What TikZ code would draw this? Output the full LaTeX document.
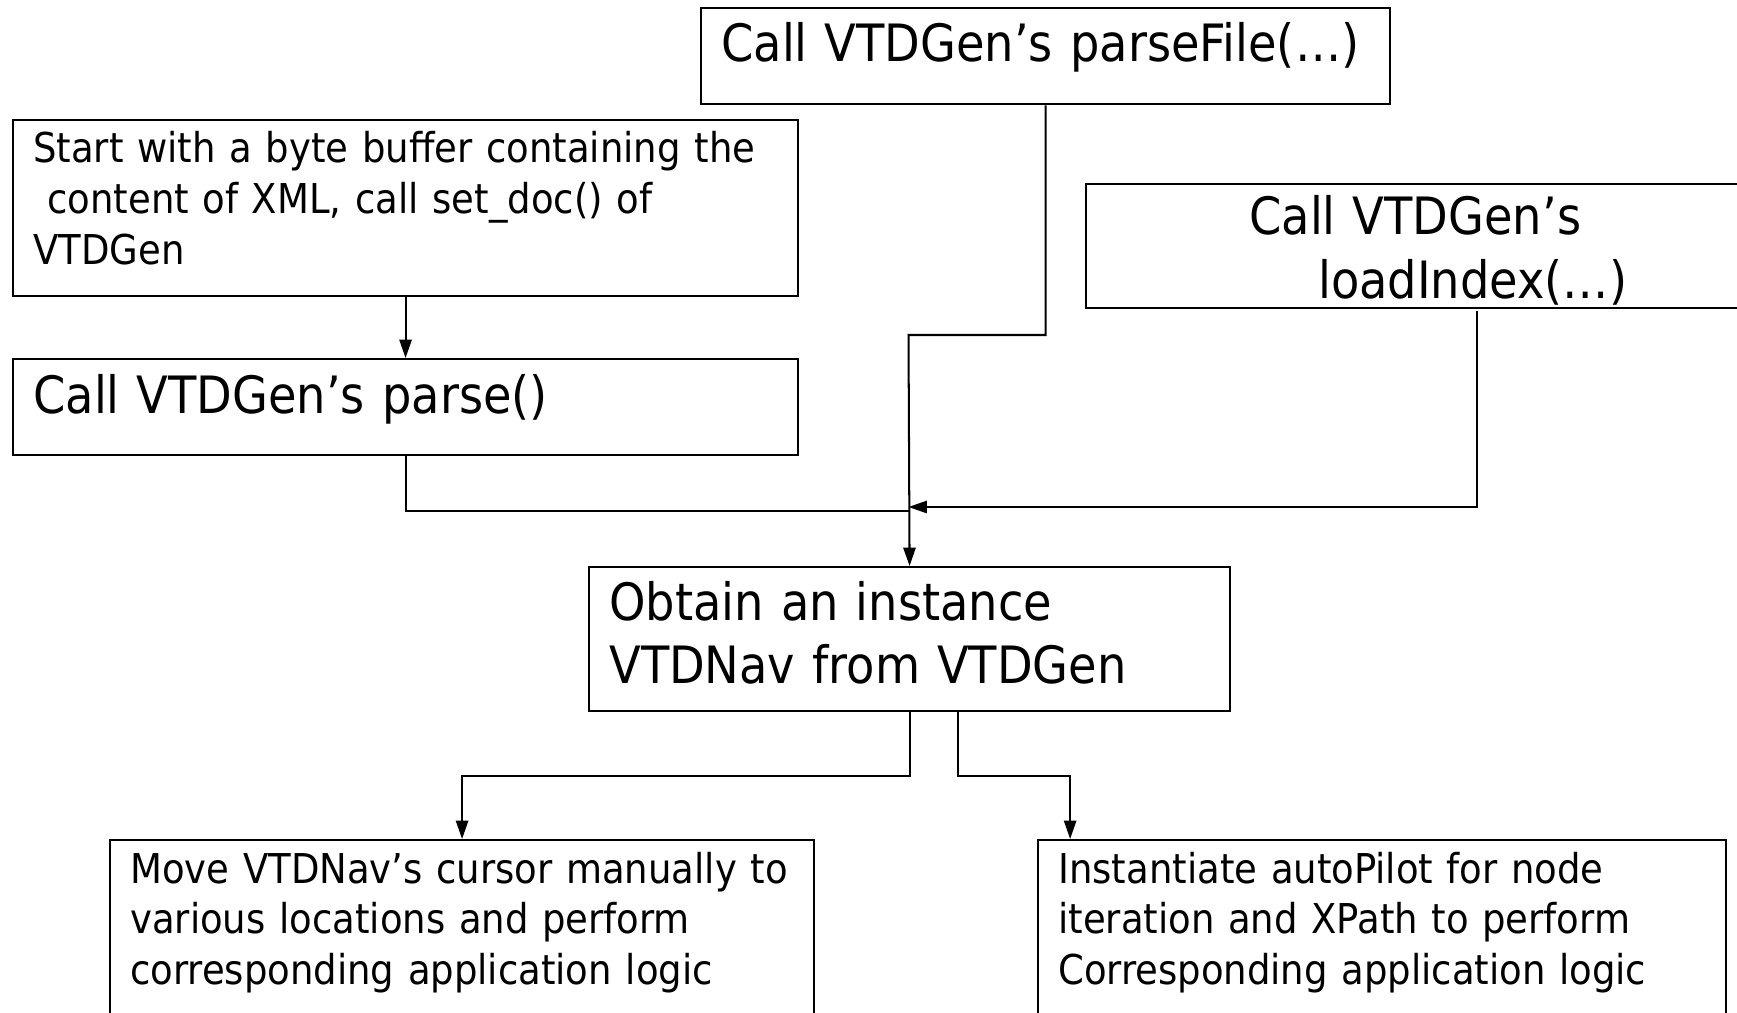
\documentclass[tikz,border=0pt]{standalone}
\usepackage{fontspec}
\setmainfont{DejaVu Sans Condensed}
\usetikzlibrary{arrows.meta,positioning}
\tikzset{
  box/.style={draw, line width=1.3pt, anchor=north west, inner sep=0pt},
  txt/.style={anchor=base west, inner sep=0pt, align=left, text width=16cm},
  bigtxt/.style={txt, font=\fontsize{29.3}{35.9}\selectfont},
  smalltxt/.style={txt, font=\fontsize{23.4}{29}\selectfont},
  line/.style={-{Triangle[length=10.5pt, width=7pt]}, line width=1.15pt},
  plainline/.style={line width=1.15pt}
}
\begin{document}
\begin{tikzpicture}[x=0.02cm, y=-0.02cm]
  \useasboundingbox (0,0) rectangle (1737,1013);
  \clip (0,0) rectangle (1737,1013);

  % boxes
  \node[box, minimum width=13.78cm, minimum height=1.92cm] (pf) at (700,7) {};
  \node[box, minimum width=15.7cm, minimum height=3.52cm] (sd) at (12,119) {};
  \node[box, minimum width=15.7cm, minimum height=1.92cm] (ps) at (12,358) {};
  \node[box, minimum width=14cm, minimum height=2.48cm] (li) at (1085,183) {};
  \node[box, minimum width=12.82cm, minimum height=2.88cm] (ob) at (588,566) {};
  \node[box, minimum width=14.08cm, minimum height=4cm] (mv) at (109,839) {};
  \node[box, minimum width=13.76cm, minimum height=4cm] (in) at (1037,839) {};

  % texts
  \node[bigtxt] (pf-t) at (721,62) {Call VTDGen’s parseFile(…)};
  \node[smalltxt] (sd-t) at (33,163) {Start with a byte buffer containing the\\
    \hspace*{0.28cm}content of XML, call set\_doc() of\\ VTDGen};
  \node[bigtxt] (ps-t) at (33,413) {Call VTDGen’s parse()};
  \node[bigtxt] (li-t) at (1249,235) {Call VTDGen’s\\ \hspace*{1.38cm}loadIndex(…)};
  \node[bigtxt] (ob-t) at (609,620) {Obtain an instance\\ VTDNav from VTDGen};
  \node[smalltxt] (mv-t) at (130,883) {Move VTDNav’s cursor manually to\\
    various locations and perform\\ corresponding application logic};
  \node[smalltxt] (in-t) at (1058,883) {Instantiate autoPilot for node\\
    iteration and XPath to perform\\ Corresponding application logic};

  % connectors
  \coordinate (j1) at (908.5,335);
  \coordinate (jl) at (908.5,511);
  \coordinate (jr) at (908.5,507);
  \coordinate (lsrc) at (1477,311);
  \draw[line] (sd) -- (ps);
  \draw[line] (pf.south) |- (j1) -- (ob.north);
  \draw[plainline] (ps.south) |- (jl);
  \draw[line] (lsrc) |- (jr);
  \draw[line] (ob.south) -- ++(0,64) -| (mv.north);
  \draw[line] ([xshift=0.97cm]ob.south) -- ++(0,64) -| ([xshift=-6.24cm]in.north);
\end{tikzpicture}
\end{document}
